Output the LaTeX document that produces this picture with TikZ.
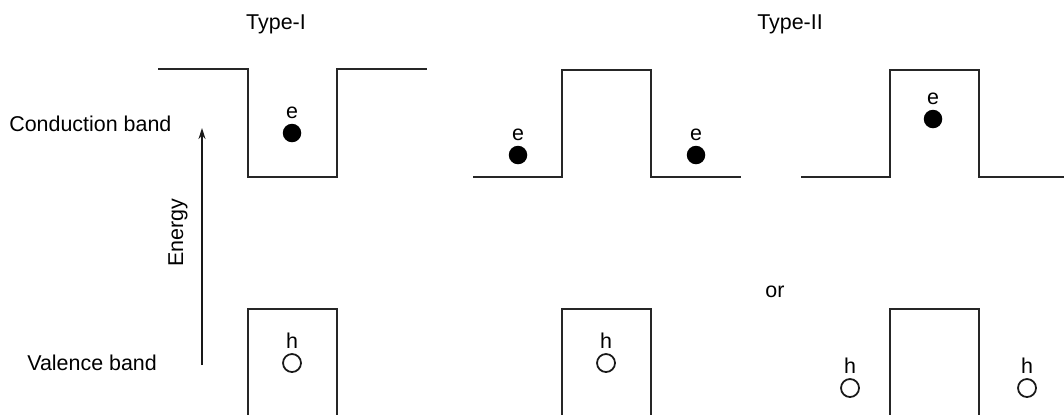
\documentclass[tikz,border=0pt]{standalone}
\usepackage{fontspec}
\setmainfont{Liberation Sans}
\usetikzlibrary{arrows.meta,positioning}
\tikzset{
  band/.style={line width=1.3pt,line join=miter,color=black!85},
  elec/.style={circle,fill=black,inner sep=0pt,minimum size=0.37cm},
  hole/.style={circle,draw=black!90,line width=1pt,inner sep=0pt,minimum size=0.36cm},
  txt/.style={font=\fontsize{12.2}{14}\selectfont,inner sep=0pt},
  carr/.style={txt,node distance=0.08cm},
  arr/.style={-{Stealth[length=0.22cm,width=0.14cm]},line width=0.9pt,color=black!90}
}

\begin{document}
\begin{tikzpicture}[x=0.02cm,y=-0.02cm]
  \useasboundingbox (0,0) rectangle (1064,414);

  %% Titles and band names
  \node[txt,anchor=base] (typeI) at (276,29.5) {Type-I};
  \node[txt,anchor=base] (typeII) at (790,29.5) {Type-II};
  \node[txt,anchor=base west] (cbname) at (9,131.5) {Conduction band};
  \node[txt,anchor=base west] (vbname) at (27,370.5) {Valence band};
  \node[txt,anchor=base] (ortxt) at (775,297.5) {or};

  %% Energy axis
  \coordinate (elow) at (202,365);
  \coordinate (ehigh) at (202,128);
  \draw[arr] (elow) -- (ehigh);
  \node[txt,rotate=90] (energy) at (178,233) {Energy};

  %% Type-I
  \draw[band] (158,69) -- (248,69) -- (248,177) -- (337,177) -- (337,69) -- (427,69);
  \draw[band] (248,416) -- (248,309) -- (337,309) -- (337,416);
  \node[elec] (eI) at (292,133) {};
  \node[carr,above=of eI] (eIlbl) {e};
  \node[hole] (hI) at (292,363) {};
  \node[carr,above=of hI] (hIlbl) {h};

  %% Type-II, holes confined
  \draw[band] (473,177) -- (562,177) -- (562,70) -- (651,70) -- (651,177) -- (741,177);
  \draw[band] (562,416) -- (562,309) -- (651,309) -- (651,416);
  \node[elec] (eIIa) at (518,155) {};
  \node[carr,above=of eIIa] (eIIalbl) {e};
  \node[elec] (eIIb) at (696,155) {};
  \node[carr,above=of eIIb] (eIIblbl) {e};
  \node[hole] (hII) at (606,363) {};
  \node[carr,above=of hII] (hIIlbl) {h};

  %% Type-II, electrons confined
  \draw[band] (801,177) -- (890,177) -- (890,70) -- (979,70) -- (979,177) -- (1066,177);
  \draw[band] (890,416) -- (890,309) -- (979,309) -- (979,416);
  \node[elec] (eIII) at (933,119) {};
  \node[carr,above=of eIII] (eIIIlbl) {e};
  \node[hole] (hIIIa) at (850,388) {};
  \node[carr,above=of hIIIa] (hIIIalbl) {h};
  \node[hole] (hIIIb) at (1027,388) {};
  \node[carr,above=of hIIIb] (hIIIblbl) {h};
\end{tikzpicture}
\end{document}
